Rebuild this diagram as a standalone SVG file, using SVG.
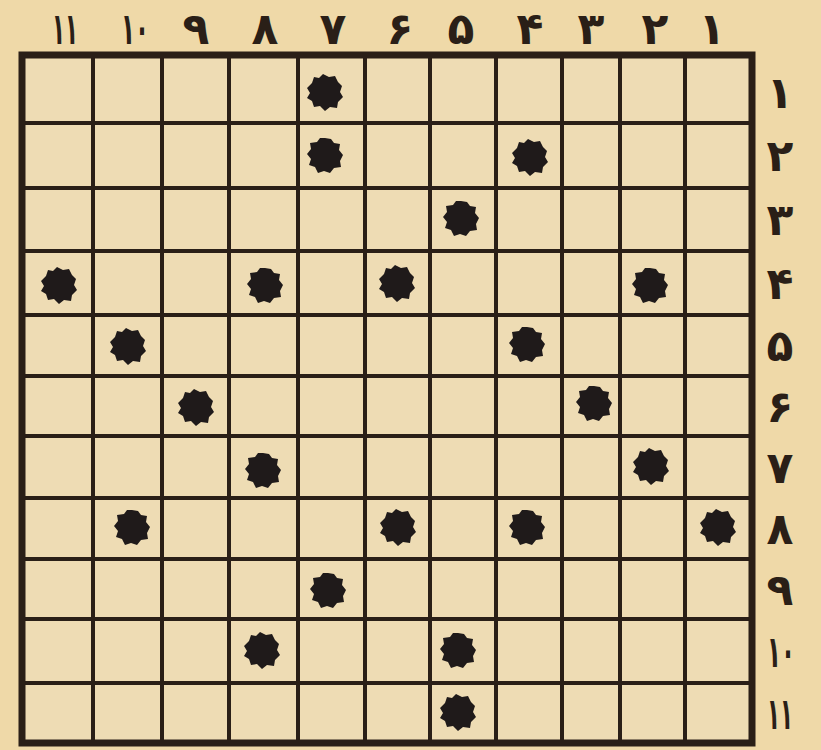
<svg xmlns="http://www.w3.org/2000/svg" width="821" height="750" viewBox="0 0 821 750">
<style>
.bg{fill:#efd9a8}
.cell{fill:#eedcb4}
.ln{stroke:#2a1f17;stroke-width:4;fill:none;stroke-linecap:square}
.bd{stroke:#2a1f17;stroke-width:7;fill:none}
.lbl{font-family:"DejaVu Sans","Noto Sans",sans-serif;font-weight:bold;font-size:44px;fill:#2a1f17;text-anchor:middle;dominant-baseline:central}
.dot{fill:#1f1a1a}
</style>
<defs>
<path id="b1" d="M-2,-18 L4,-15 L10,-16 L13,-10 L17,-6 L15,0 L18,5 L13,10 L12,16 L5,15 L0,19 L-5,14 L-11,15 L-13,9 L-18,6 L-15,1 L-18,-4 L-13,-9 L-11,-15 L-6,-14 Z"/>
<path id="b2" d="M0,-17 L6,-16 L9,-12 L15,-11 L14,-5 L18,0 L15,6 L16,12 L9,13 L5,18 L-1,16 L-7,18 L-10,12 L-16,10 L-14,4 L-18,-1 L-14,-6 L-15,-12 L-8,-13 L-5,-17 Z"/>
</defs>
<rect class="bg" x="0" y="0" width="821" height="750"/>
<rect class="cell" x="22" y="55" width="730" height="688"/>
<g id="labels-top">
<text class="lbl" x="65" y="28" textLength="26" lengthAdjust="spacingAndGlyphs">۱۱</text>
<text class="lbl" x="135" y="28" textLength="28" lengthAdjust="spacingAndGlyphs">۱۰</text>
<text class="lbl" x="196" y="28">۹</text>
<text class="lbl" x="265" y="28">۸</text>
<text class="lbl" x="333" y="28">۷</text>
<text class="lbl" x="400" y="28">۶</text>
<text class="lbl" x="461" y="28">۵</text>
<text class="lbl" x="530" y="28">۴</text>
<text class="lbl" x="591" y="28">۳</text>
<text class="lbl" x="655" y="28">۲</text>
<text class="lbl" x="712" y="28">۱</text>
</g>
<g id="labels-right">
<text class="lbl" x="780" y="92">۱</text>
<text class="lbl" x="780" y="155">۲</text>
<text class="lbl" x="780" y="219">۳</text>
<text class="lbl" x="780" y="283">۴</text>
<text class="lbl" x="780" y="345">۵</text>
<text class="lbl" x="780" y="406">۶</text>
<text class="lbl" x="780" y="467">۷</text>
<text class="lbl" x="780" y="528">۸</text>
<text class="lbl" x="780" y="589">۹</text>
<text class="lbl" x="781" y="651" textLength="28" lengthAdjust="spacingAndGlyphs">۱۰</text>
<text class="lbl" x="780" y="713" textLength="26" lengthAdjust="spacingAndGlyphs">۱۱</text>
</g>
<g id="grid">
<path class="ln" d="M93,55V743 M162,55V743 M229,55V743 M298,55V743 M365,55V743 M430,55V743 M496,55V743 M562,55V743 M620,55V743 M685,55V743"/>
<path class="ln" d="M22,123H752 M22,188H752 M22,251H752 M22,315H752 M22,376H752 M22,436H752 M22,498H752 M22,559H752 M22,619H752 M22,683H752"/>
<rect class="bd" x="22" y="55" width="730" height="688"/>
</g>
<g id="stones" class="dot">
<use href="#b1" x="325" y="92"/>
<use href="#b2" x="325" y="155"/>
<use href="#b1" x="530" y="157"/>
<use href="#b2" x="461" y="218"/>
<use href="#b1" x="59" y="285"/>
<use href="#b2" x="265" y="285"/>
<use href="#b1" x="397" y="283"/>
<use href="#b2" x="650" y="285"/>
<use href="#b1" x="128" y="346"/>
<use href="#b2" x="527" y="344"/>
<use href="#b1" x="196" y="407"/>
<use href="#b2" x="594" y="403"/>
<use href="#b2" x="263" y="470"/>
<use href="#b1" x="651" y="466"/>
<use href="#b2" x="132" y="527"/>
<use href="#b1" x="398" y="527"/>
<use href="#b2" x="527" y="527"/>
<use href="#b1" x="718" y="527"/>
<use href="#b2" x="328" y="590"/>
<use href="#b1" x="262" y="650"/>
<use href="#b2" x="458" y="650"/>
<use href="#b1" x="458" y="712"/>
</g>
</svg>
